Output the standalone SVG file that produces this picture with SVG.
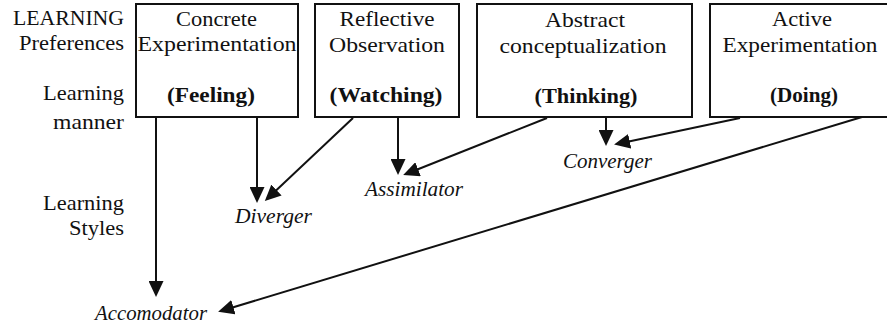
<svg xmlns="http://www.w3.org/2000/svg" width="887" height="329" viewBox="0 0 887 329" font-family="'Liberation Serif', 'DejaVu Serif', serif">
<style>
text{font-size:21px;fill:#111}
.c{text-anchor:middle}
.r{text-anchor:end}
.b{font-weight:bold}
.i{font-style:italic}
.box{fill:#fff;stroke:#111;stroke-width:2}
.ln{stroke:#111;stroke-width:2;fill:none;marker-end:url(#ah)}
</style>
<defs>
<marker id="ah" markerUnits="userSpaceOnUse" markerWidth="16" markerHeight="15" refX="13" refY="7.5" orient="auto">
<path d="M0,0 L16,7.5 L0,15 z" fill="#111"/>
</marker>
</defs>
<rect width="887" height="329" fill="#fff"/>
<g id="row-labels">
<text class="r" x="124" y="25" textLength="111" lengthAdjust="spacingAndGlyphs">LEARNING</text>
<text class="r" x="124" y="50" textLength="105" lengthAdjust="spacingAndGlyphs">Preferences</text>
<text class="r" x="124" y="100" textLength="81" lengthAdjust="spacingAndGlyphs">Learning</text>
<text class="r" x="124" y="129" textLength="71" lengthAdjust="spacingAndGlyphs">manner</text>
<text class="r" x="124" y="210" textLength="81" lengthAdjust="spacingAndGlyphs">Learning</text>
<text class="r" x="124" y="235" textLength="55" lengthAdjust="spacingAndGlyphs">Styles</text>
</g>
<g id="concrete">
<rect class="box" x="136" y="4" width="162" height="113"/>
<text class="c" x="216.5" y="26" textLength="81" lengthAdjust="spacingAndGlyphs">Concrete</text>
<text class="c" x="217" y="51" textLength="159" lengthAdjust="spacingAndGlyphs">Experimentation</text>
<text class="c b" x="211" y="102" textLength="88" lengthAdjust="spacingAndGlyphs">(Feeling)</text>
</g>
<g id="reflective">
<rect class="box" x="315" y="4" width="144" height="113"/>
<text class="c" x="387" y="26" textLength="95" lengthAdjust="spacingAndGlyphs">Reflective</text>
<text class="c" x="387" y="52" textLength="116" lengthAdjust="spacingAndGlyphs">Observation</text>
<text class="c b" x="386" y="102" textLength="113" lengthAdjust="spacingAndGlyphs">(Watching)</text>
</g>
<g id="abstract">
<rect class="box" x="477" y="4" width="215" height="113"/>
<text class="c" x="585" y="27" textLength="80" lengthAdjust="spacingAndGlyphs">Abstract</text>
<text class="c" x="583" y="53" textLength="167" lengthAdjust="spacingAndGlyphs">conceptualization</text>
<text class="c b" x="586" y="103" textLength="103" lengthAdjust="spacingAndGlyphs">(Thinking)</text>
</g>
<g id="active">
<rect class="box" x="710" y="4" width="180" height="113"/>
<text class="c" x="802" y="26" textLength="60" lengthAdjust="spacingAndGlyphs">Active</text>
<text class="c" x="800" y="52" textLength="155" lengthAdjust="spacingAndGlyphs">Experimentation</text>
<text class="c b" x="804" y="102" textLength="68" lengthAdjust="spacingAndGlyphs">(Doing)</text>
</g>
<g id="diverger"><text class="i" x="235" y="223" textLength="77" lengthAdjust="spacingAndGlyphs">Diverger</text></g>
<g id="accomodator"><text class="i" x="95" y="320" textLength="112" lengthAdjust="spacingAndGlyphs">Accomodator</text></g>
<g id="assimilator"><text class="i" x="365" y="196" textLength="98" lengthAdjust="spacingAndGlyphs">Assimilator</text></g>
<g id="converger"><text class="i" x="563" y="168" textLength="89" lengthAdjust="spacingAndGlyphs">Converger</text></g>
<g id="connectors">
<line class="ln" x1="156" y1="118" x2="156" y2="294"/>
<line class="ln" x1="257" y1="118" x2="257" y2="200"/>
<line class="ln" x1="353" y1="118" x2="267" y2="199"/>
<line class="ln" x1="398" y1="118" x2="398" y2="172"/>
<line class="ln" x1="547" y1="118" x2="406" y2="174"/>
<line class="ln" x1="606" y1="118" x2="606" y2="143"/>
<line class="ln" x1="740" y1="118" x2="617" y2="144"/>
<line class="ln" x1="862" y1="117" x2="221" y2="311"/>
</g>
</svg>
